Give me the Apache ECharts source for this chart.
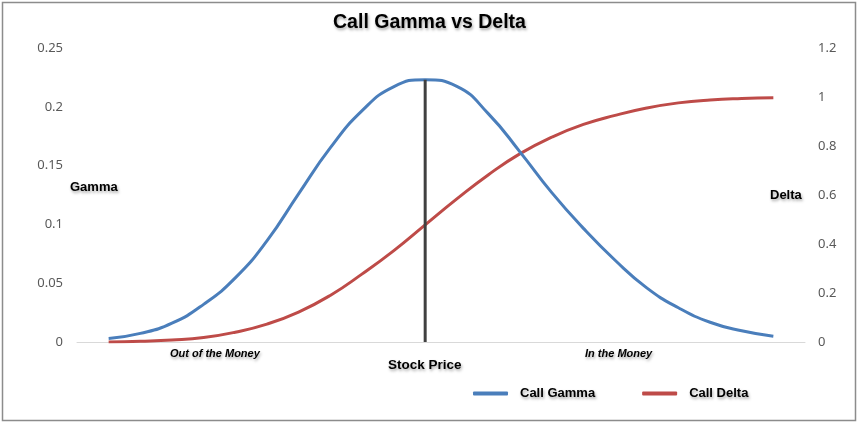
<!DOCTYPE html>
<html>
<head>
<meta charset="utf-8">
<title>Call Gamma vs Delta</title>
<script src="https://cdn.jsdelivr.net/npm/echarts@6.0.0/dist/echarts.min.js"></script>
<style>
    html, body { margin: 0; padding: 0; background: #fff; }
    #chart { width: 859px; height: 424px; }
</style>
</head>
<body>
<div id="chart"></div>
<script>
// stock price steps, at the money is step 10
var steps = [0, 1, 2, 3, 4, 5, 6, 7, 8, 9, 10, 11, 12, 13, 14, 15, 16, 17, 18, 19, 20, 21];
var gammaValues = [0.0029, 0.0073, 0.0160, 0.0320, 0.0545, 0.0860, 0.1260, 0.1650, 0.1965, 0.2170, 0.2231,
    0.2174, 0.1940, 0.1615, 0.1270, 0.0966, 0.0695, 0.0460, 0.0291, 0.0168, 0.0095, 0.0048];
var deltaValues = [0, 0.003, 0.008, 0.018, 0.040, 0.073, 0.122, 0.190, 0.277, 0.372, 0.478,
    0.584, 0.683, 0.769, 0.836, 0.888, 0.925, 0.955, 0.976, 0.988, 0.994, 0.997];
var atmStep = 10;
var gammaTicks = { min: 0, max: 0.25, interval: 0.05 };
var deltaTicks = { min: 0, max: 1.2, interval: 0.2 };

var shadow = {
    textShadowColor: 'rgba(0,0,0,0.35)',
    textShadowBlur: 3,
    textShadowOffsetX: 1,
    textShadowOffsetY: 2
};

function pairs(xs, ys) {
    var res = [];
    for (var i = 0; i < xs.length; i++) {
        res.push([xs[i], ys[i]]);
    }
    return res;
}

function label(text, left, top, font) {
    return {
        type: 'text',
        left: left,
        top: top,
        style: Object.assign({ text: text, font: font, fill: '#000' }, shadow)
    };
}

var myChart = echarts.init(document.getElementById('chart'));
var option = {
    backgroundColor: '#fff',
    animation: false,
    title: {
        text: 'Call Gamma vs Delta',
        left: 'center',
        top: 8,
        textStyle: Object.assign({
            fontFamily: 'Liberation Sans',
            fontSize: 19.5,
            fontWeight: 'bold',
            color: '#000'
        }, shadow)
    },
    legend: {
        left: 468,
        top: 382,
        itemWidth: 35,
        itemHeight: 4,
        itemGap: 47,
        data: [
            { name: 'Call Gamma', icon: 'roundRect' },
            { name: 'Call Delta', icon: 'roundRect' }
        ],
        textStyle: Object.assign({
            fontFamily: 'Liberation Sans',
            fontSize: 13,
            fontWeight: 'bold',
            color: '#000',
            padding: [0, 0, 0, 7]
        }, shadow)
    },
    grid: {
        left: 77,
        right: 54,
        top: 48,
        bottom: 82
    },
    xAxis: {
        type: 'value',
        min: -1,
        max: 22,
        axisLine: { show: true, lineStyle: { color: '#d9d9d9', width: 1 } },
        axisTick: { show: false },
        axisLabel: { show: false },
        splitLine: { show: false }
    },
    yAxis: [
        {
            type: 'value',
            min: gammaTicks.min,
            max: gammaTicks.max,
            interval: gammaTicks.interval,
            axisLine: { show: false },
            axisTick: { show: false },
            splitLine: { show: false },
            axisLabel: {
                margin: 14,
                fontFamily: 'Noto Sans',
                fontSize: 13,
                color: '#595959'
            }
        },
        {
            type: 'value',
            min: deltaTicks.min,
            max: deltaTicks.max,
            interval: deltaTicks.interval,
            axisLine: { show: false },
            axisTick: { show: false },
            splitLine: { show: false },
            axisLabel: {
                margin: 13,
                fontFamily: 'Noto Sans',
                fontSize: 13,
                color: '#595959'
            }
        }
    ],
    graphic: [
        {
            type: 'rect',
            shape: { x: 2.5, y: 2.5, width: 853, height: 418 },
            style: { fill: 'none', stroke: '#8c8c8c', lineWidth: 1.5 },
            silent: true
        },
        label('Gamma', 70, 181, 'bold 13px "Liberation Sans"'),
        label('Delta', 770, 189, 'bold 13px "Liberation Sans"'),
        label('Stock Price', 388, 358, 'bold 13.5px "Liberation Sans"'),
        label('Out of the Money', 170, 348, 'italic bold 11px "Liberation Sans"'),
        label('In the Money', 585, 348, 'italic bold 11px "Liberation Sans"')
    ],
    series: [
        {
            name: 'Call Gamma',
            type: 'line',
            yAxisIndex: 0,
            smooth: true,
            symbol: 'none',
            color: '#4a7ebb',
            lineStyle: { width: 3, color: '#4a7ebb' },
            data: pairs(steps, gammaValues),
            z: 3
        },
        {
            name: 'Call Delta',
            type: 'line',
            yAxisIndex: 1,
            smooth: true,
            symbol: 'none',
            color: '#be4b48',
            lineStyle: { width: 3, color: '#be4b48' },
            data: pairs(steps, deltaValues),
            z: 2
        },
        {
            // vertical line at the money, from zero to the gamma peak
            name: 'ATM',
            type: 'line',
            yAxisIndex: 0,
            symbol: 'none',
            lineStyle: { width: 3, color: '#404040' },
            data: [
                [atmStep, 0],
                {
                    value: [atmStep, gammaValues[atmStep]],
                    label: Object.assign({
                        show: true,
                        position: 'top',
                        distance: 4,
                        formatter: 'At the Money',
                        fontFamily: 'Liberation Sans',
                        fontSize: 11,
                        fontStyle: 'italic',
                        fontWeight: 'bold',
                        color: '#000'
                    }, shadow)
                }
            ],
            z: 4
        }
    ]
};
if (option && typeof option === "object") {
    myChart.setOption(option, true);
}
</script>
</body>
</html>
